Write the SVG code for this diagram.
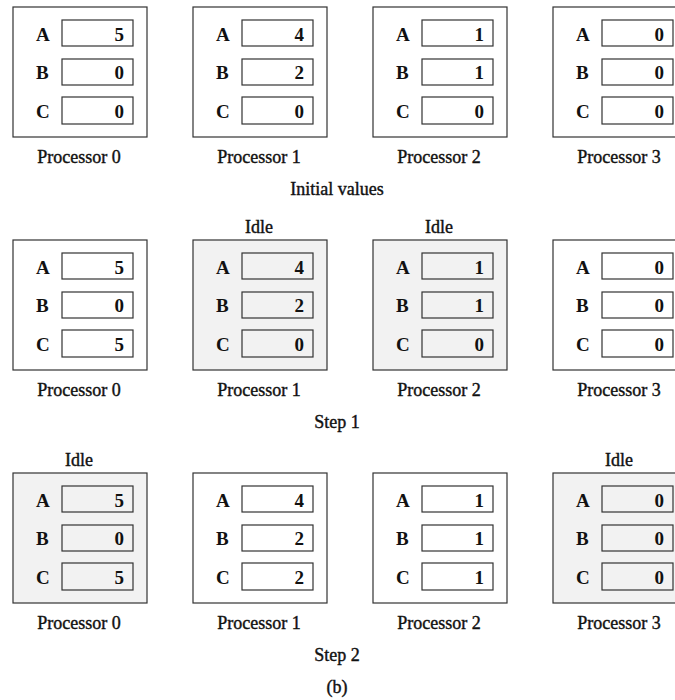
<svg xmlns="http://www.w3.org/2000/svg" width="675" height="700" viewBox="0 0 675 700">
<style>
.outer{stroke:#333333;stroke-width:1.2}
.cell{stroke:#333333;stroke-width:1.2}
.lbl{font-family:"Liberation Serif","Times New Roman",serif;font-size:19px;font-weight:bold;fill:#111111}
.val{font-family:"Liberation Serif","Times New Roman",serif;font-size:19px;font-weight:bold;fill:#111111;text-anchor:end}
.cap{font-family:"Liberation Serif","Times New Roman",serif;font-size:18px;fill:#111111;text-anchor:middle;stroke:#111111;stroke-width:0.4}
</style>
<defs>
<g id="frame">
<rect class="outer" x="0" y="0" width="134" height="130" fill="#ffffff"/>
<rect class="cell" x="49" y="13" width="71" height="26" fill="#ffffff"/>
<rect class="cell" x="49" y="52" width="71" height="26" fill="#ffffff"/>
<rect class="cell" x="49" y="90" width="71" height="27" fill="#ffffff"/>
<text class="lbl" x="23" y="34">A</text>
<text class="lbl" x="23" y="72">B</text>
<text class="lbl" x="23" y="111">C</text>
</g>
<g id="frameIdle">
<rect class="outer" x="0" y="0" width="134" height="130" fill="#f2f2f2"/>
<rect class="cell" x="49" y="13" width="71" height="26" fill="#f2f2f2"/>
<rect class="cell" x="49" y="52" width="71" height="26" fill="#f2f2f2"/>
<rect class="cell" x="49" y="90" width="71" height="27" fill="#f2f2f2"/>
<text class="lbl" x="23" y="34">A</text>
<text class="lbl" x="23" y="72">B</text>
<text class="lbl" x="23" y="111">C</text>
</g>
</defs>

<!-- Row 1: Initial values -->
<g id="r1p0" transform="translate(13,7)"><use href="#frame"/><text class="val" x="111" y="34">5</text><text class="val" x="111" y="72">0</text><text class="val" x="111" y="111">0</text><text class="cap" x="66" y="156">Processor 0</text></g>
<g id="r1p1" transform="translate(193,7)"><use href="#frame"/><text class="val" x="111" y="34">4</text><text class="val" x="111" y="72">2</text><text class="val" x="111" y="111">0</text><text class="cap" x="66" y="156">Processor 1</text></g>
<g id="r1p2" transform="translate(373,7)"><use href="#frame"/><text class="val" x="111" y="34">1</text><text class="val" x="111" y="72">1</text><text class="val" x="111" y="111">0</text><text class="cap" x="66" y="156">Processor 2</text></g>
<g id="r1p3" transform="translate(553,7)"><use href="#frame"/><text class="val" x="111" y="34">0</text><text class="val" x="111" y="72">0</text><text class="val" x="111" y="111">0</text><text class="cap" x="66" y="156">Processor 3</text></g>
<text class="cap" x="337" y="195">Initial values</text>

<!-- Row 2: Step 1 -->
<g id="r2p0" transform="translate(13,240)"><use href="#frame"/><text class="val" x="111" y="34">5</text><text class="val" x="111" y="72">0</text><text class="val" x="111" y="111">5</text><text class="cap" x="66" y="156">Processor 0</text></g>
<g id="r2p1" transform="translate(193,240)"><use href="#frameIdle"/><text class="val" x="111" y="34">4</text><text class="val" x="111" y="72">2</text><text class="val" x="111" y="111">0</text><text class="cap" x="66" y="156">Processor 1</text><text class="cap" x="66" y="-7">Idle</text></g>
<g id="r2p2" transform="translate(373,240)"><use href="#frameIdle"/><text class="val" x="111" y="34">1</text><text class="val" x="111" y="72">1</text><text class="val" x="111" y="111">0</text><text class="cap" x="66" y="156">Processor 2</text><text class="cap" x="66" y="-7">Idle</text></g>
<g id="r2p3" transform="translate(553,240)"><use href="#frame"/><text class="val" x="111" y="34">0</text><text class="val" x="111" y="72">0</text><text class="val" x="111" y="111">0</text><text class="cap" x="66" y="156">Processor 3</text></g>
<text class="cap" x="337" y="428">Step 1</text>

<!-- Row 3: Step 2 -->
<g id="r3p0" transform="translate(13,473)"><use href="#frameIdle"/><text class="val" x="111" y="34">5</text><text class="val" x="111" y="72">0</text><text class="val" x="111" y="111">5</text><text class="cap" x="66" y="156">Processor 0</text><text class="cap" x="66" y="-7">Idle</text></g>
<g id="r3p1" transform="translate(193,473)"><use href="#frame"/><text class="val" x="111" y="34">4</text><text class="val" x="111" y="72">2</text><text class="val" x="111" y="111">2</text><text class="cap" x="66" y="156">Processor 1</text></g>
<g id="r3p2" transform="translate(373,473)"><use href="#frame"/><text class="val" x="111" y="34">1</text><text class="val" x="111" y="72">1</text><text class="val" x="111" y="111">1</text><text class="cap" x="66" y="156">Processor 2</text></g>
<g id="r3p3" transform="translate(553,473)"><use href="#frameIdle"/><text class="val" x="111" y="34">0</text><text class="val" x="111" y="72">0</text><text class="val" x="111" y="111">0</text><text class="cap" x="66" y="156">Processor 3</text><text class="cap" x="66" y="-7">Idle</text></g>
<text class="cap" x="337" y="661">Step 2</text>

<text class="cap" x="337" y="693">(b)</text>
<g id="connectors"/>
</svg>
